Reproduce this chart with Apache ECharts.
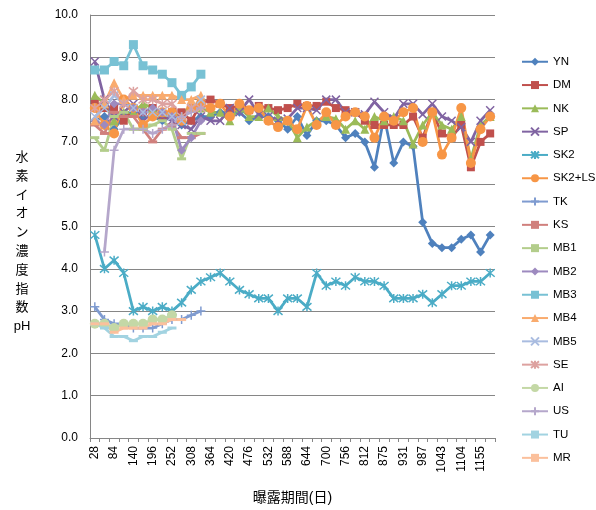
<!DOCTYPE html>
<html><head><meta charset="utf-8">
<script src="https://cdn.jsdelivr.net/npm/echarts@6/dist/echarts.min.js"></script>
<style>html,body{margin:0;padding:0;background:#fff}#c{width:596px;height:510px}</style>
</head><body><div id="c"></div>
<script>
const categories = ['28','56','84','112','140','168','196','224','252','280','308','336','364','392','420','448','476','504','532','560','588','616','644','672','700','728','756','784','812','844','875','903','931','959','987','1015','1043','1071','1104','1127','1155','1183'];
const yTicks = [0,1,2,3,4,5,6,7,8,9,10];

const YN = [7.5,7.6,7.3,7.6,7.7,7.6,7.6,7.5,7.6,7.4,7.5,7.6,7.6,7.7,7.7,7.7,7.5,7.6,7.6,7.5,7.3,7.6,7.15,7.5,7.5,7.4,7.1,7.2,7.0,6.4,7.6,6.5,7.0,6.9,5.1,4.6,4.5,4.5,4.7,4.8,4.4,4.8];
const DM = [7.9,7.8,7.8,7.5,7.8,7.7,7.8,7.6,7.7,7.7,7.5,7.9,8.0,7.9,7.8,7.85,7.75,7.85,7.8,7.75,7.8,7.9,7.85,7.85,7.95,7.8,7.75,7.7,7.5,7.4,7.4,7.4,7.4,7.6,7.1,7.7,7.2,7.1,7.4,6.4,7.0,7.2];
const NK = [8.1,7.9,7.5,7.7,7.7,7.9,7.8,7.7,7.7,7.6,7.9,7.8,7.7,7.7,7.5,7.8,7.6,7.6,7.8,7.6,7.5,7.1,7.35,7.5,7.6,7.55,7.3,7.5,7.3,7.6,7.5,7.6,7.5,6.95,7.4,7.7,7.4,7.3,7.6,6.6,7.4,7.6];
const SP = [8.9,8.0,7.6,7.7,7.9,7.5,7.7,7.6,7.5,7.4,7.3,7.6,7.5,7.5,7.8,7.7,8.0,7.65,7.6,7.5,7.55,7.8,7.8,7.75,8.0,8.0,7.7,7.7,7.65,7.95,7.7,7.55,7.9,7.9,7.65,7.9,7.6,7.5,7.35,7.0,7.5,7.75];
const SK2 = [4.8,4.0,4.2,3.9,3.0,3.1,3.0,3.1,3.0,3.2,3.5,3.7,3.8,3.9,3.7,3.5,3.4,3.3,3.3,3.0,3.3,3.3,3.1,3.9,3.6,3.7,3.6,3.8,3.7,3.7,3.6,3.3,3.3,3.3,3.4,3.2,3.4,3.6,3.6,3.7,3.7,3.9];
const SK2LS = [7.8,7.4,7.2,8.0,7.8,7.4,7.6,7.7,7.7,7.5,7.8,7.9,7.8,7.9,7.6,7.9,7.75,7.8,7.5,7.35,7.5,7.3,7.85,7.4,7.7,7.4,7.6,7.7,7.6,7.1,7.6,7.5,7.7,7.8,7.0,7.7,6.7,7.1,7.8,6.5,7.3,7.6];
const TK = [3.1,2.8,2.7,2.7,2.6,2.6,2.6,2.7,2.8,2.8,2.9,3.0];
const KS = [7.4,7.2,7.7,7.6,7.6,7.3,7.0,7.3,7.4,7.1,7.1,7.2];
const MB1 = [7.1,6.8,7.6,7.7,7.3,7.3,7.4,7.5,7.3,6.6,7.2,7.2];
const MB2 = [7.5,7.4,7.9,7.9,7.8,7.7,7.8,7.7,7.6,6.8,7.1,7.5];
const MB3 = [8.7,8.7,8.9,8.8,9.3,8.8,8.7,8.6,8.4,8.1,8.3,8.6];
const MB4 = [7.5,7.9,8.4,8.0,8.1,8.1,8.1,8.1,8.1,8.0,8.0,8.1];
const MB5 = [7.6,7.8,8.1,7.9,7.8,7.7,7.7,7.7,7.6,7.5,7.8,8.0];
const SE = [7.8,8.0,8.2,7.9,8.2,8.0,8.0,7.9,7.9,7.6,7.8,7.8];
const AI = [2.7,2.7,2.6,2.7,2.7,2.7,2.8,2.8,2.9];
const US = [null,4.4,6.8,7.3,7.3,7.3,7.2,7.3,7.4,7.6,7.7,7.8];
const TU = [2.7,2.6,2.4,2.4,2.3,2.4,2.4,2.5,2.6];
const MR = [2.7,2.7,2.5,2.6,2.6,2.6,2.7,2.7,2.8,2.8];

const X = 'path://M0,0L10,10M10,0L0,10';
const AST = 'path://M0,0L10,10M10,0L0,10M5,-1L5,11';
const PLUS = 'path://M5,0L5,10M0,5L10,5';
const DASH = 'rect';

const defs = [
  ['YN', YN, '#4F81BD', 'diamond', 9, false],
  ['DM', DM, '#C0504D', 'rect', 8, false],
  ['NK', NK, '#9BBB59', 'triangle', 9, false],
  ['SP', SP, '#8064A2', X, 8, true],
  ['SK2', SK2, '#4BACC6', AST, 9, true],
  ['SK2+LS', SK2LS, '#F79646', 'circle', 10, false],
  ['TK', TK, '#7F9BD0', PLUS, 9, true],
  ['KS', KS, '#D0807D', DASH, [9,3], false],
  ['MB1', MB1, '#B3CD8B', DASH, [9,3], false],
  ['MB2', MB2, '#9D8ABF', 'diamond', 9, false],
  ['MB3', MB3, '#78C1D4', 'rect', 9, false],
  ['MB4', MB4, '#F9AB6E', 'triangle', 9, false],
  ['MB5', MB5, '#A9BCE0', X, 8, true],
  ['SE', SE, '#DDA2A0', AST, 9, true],
  ['AI', AI, '#C4D8A6', 'circle', 10, false],
  ['US', US, '#B5A7CB', PLUS, 9, true],
  ['TU', TU, '#A2D3E1', DASH, [9,3], false],
  ['MR', MR, '#FBC09C', DASH, [9,3], false]
];

const FONT = '"Liberation Sans", "Noto Sans CJK JP", sans-serif';
const series = defs.map(([name, data, color, symbol, size, stroke]) => ({
  name, type: 'line', data, symbol, symbolSize: size,
  showSymbol: true, showAllSymbol: true, connectNulls: false,
  lineStyle: { color, width: 2.75 },
  itemStyle: { color, borderColor: color, borderWidth: stroke ? 1.5 : 0 },
  emphasis: { disabled: true }
}));

const chart = echarts.init(document.getElementById('c'));
chart.setOption({
  animation: false,
  grid: { left: 90, right: 101, top: 15, bottom: 63 },
  legend: {
    orient: 'vertical', left: 516, top: 51,
    itemWidth: 26, itemHeight: 10, itemGap: 11.8,
    textStyle: { fontSize: 11.5, color: '#000', fontFamily: FONT },
    data: defs.map(d => d[0])
  },
  xAxis: {
    type: 'category', data: categories,
    name: '曝露期間(日)', nameLocation: 'middle', nameGap: 53,
    nameTextStyle: { fontSize: 14, color: '#000', fontFamily: FONT },
    axisLine: { lineStyle: { color: '#868686' } },
    axisTick: { show: true, interval: 0, length: 4, lineStyle: { color: '#868686' } },
    axisLabel: { interval: 1, rotate: 90, fontSize: 12, color: '#000', fontFamily: FONT, margin: 8 },
    splitLine: { show: false }
  },
  yAxis: {
    type: 'value', min: yTicks[0], max: yTicks[yTicks.length-1], interval: 1,
    axisLine: { show: true, lineStyle: { color: '#868686' } },
    axisTick: { show: false },
    axisLabel: { formatter: v => v.toFixed(1), fontSize: 12, color: '#000', fontFamily: FONT, margin: 12 },
    splitLine: { lineStyle: { color: '#868686', width: 1 } }
  },
  graphic: [{
    type: 'text', x: 22, y: 148,
    style: { text: '水\n素\nイ\nオ\nン\n濃\n度\n指\n数\npH', textAlign: 'center', fontSize: 13, lineHeight: 18.8, fill: '#000', fontFamily: FONT }
  }],
  series
});
</script></body></html>
